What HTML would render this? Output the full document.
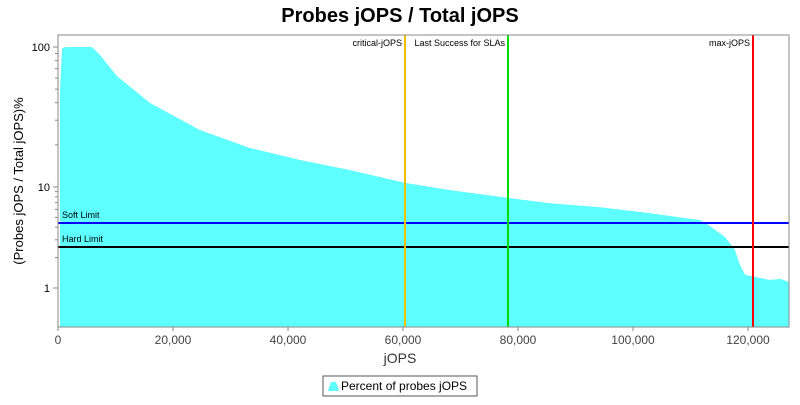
<!DOCTYPE html>
<html><head><meta charset="utf-8"><style>
body{margin:0;background:#fff;font-family:"Liberation Sans","DejaVu Sans",sans-serif}
</style></head><body>
<svg id="c" width="800" height="400" xmlns="http://www.w3.org/2000/svg"></svg>
<script>
const xs=[350,700,1400,5900,7300,10260,16000,24700,33400,42100,50800,60350,68200,78260,85600,94300,103000,108200,111700,113400,116000,117700,118600,119500,121200,123800,125600,127100];
const vals=[49,98,100,100,87.7,62,39.8,25.5,19,15.6,13.2,10.7,9.3,7.8,6.9,6.3,5.5,5.0,4.7,4.1,3.2,2.4,1.7,1.35,1.29,1.2,1.23,1.15];
const xTicks=[0,20000,40000,60000,80000,100000,120000];
const yTicks=[1,10,100];
const markers=[{x:60350,label:"critical-jOPS",color:"#f0c000"},{x:78260,label:"Last Success for SLAs",color:"#00dd00"},{x:120870,label:"max-jOPS",color:"#ff0000"}];
const limits=[{v:4.4,label:"Soft Limit",color:"#0000ff"},{v:2.55,label:"Hard Limit",color:"#000000"}];
const L=58,R=789,T=35,B=327;
const X=v=>L+v*115/20000;
const Y=v=>{const l=Math.log10(v);return l>=1?187-(l-1)*140:288-l*101;};
const s=document.getElementById('c');const NS="http://www.w3.org/2000/svg";
function mk(t,a,txt){const e=document.createElementNS(NS,t);for(const k in a)e.setAttribute(k,a[k]);if(txt!==undefined)e.textContent=txt;s.appendChild(e);return e;}
let e;
e=mk('text',{x:400,y:22,'text-anchor':'middle','font-size':20,'font-weight':'bold'},'Probes jOPS / Total jOPS');


let d=`M${X(xs[0])},${B}`;xs.forEach((x,i)=>d+=` L${X(x)},${Y(vals[i])}`);d+=` L${R},${Y(vals[vals.length-1])} L${R},${B} Z`;
e=mk('path',{d:d,fill:'#5effff'});


limits.forEach(m=>{const y=Y(m.v);
e=mk('line',{x1:L,x2:R,y1:y,y2:y,stroke:m.color,'stroke-width':2});


e=mk('text',{x:L+4,y:y-5,'font-size':9},m.label);

});
markers.forEach(m=>{const x=X(m.x);
e=mk('line',{x1:x,x2:x,y1:T,y2:B,stroke:m.color,'stroke-width':2});


e=mk('text',{x:x-3,y:46,'font-size':9,'text-anchor':'end'},m.label);

});
e=mk('rect',{x:L,y:T,width:R-L,height:B-T,fill:'none',stroke:'#888'});


xTicks.forEach(t=>{const x=X(t);
mk('line',{x1:x,x2:x,y1:B,y2:B+4,stroke:'#888'});
e=mk('text',{x:x,y:B+17,'font-size':12,'text-anchor':'middle',fill:'#444'},t.toLocaleString('en-US'));

});
yTicks.forEach(t=>{const y=Y(t);
mk('line',{x1:L-5,x2:L,y1:y,y2:y,stroke:'#888'});
e=mk('text',{x:L-8,y:y+4,'font-size':11,'text-anchor':'end'},String(t));

});
[1,10].forEach(b=>{for(let k=2;k<10;k++){const y=Y(b*k);mk('line',{x1:L-3,x2:L,y1:y,y2:y,stroke:'#888'});}});
e=mk('text',{x:400,y:363,'font-size':14,'text-anchor':'middle',fill:'#333'},'jOPS');


e=mk('text',{x:0,y:0,'font-size':13,'text-anchor':'middle',transform:'translate(23,181) rotate(-90)'},'(Probes jOPS / Total jOPS)%');


e=mk('rect',{x:323,y:376,width:154,height:20,fill:'#fff',stroke:'#555'});


e=mk('path',{d:'M328,391 L331,382 L336,382 L339,391 Z',fill:'#5effff'});


e=mk('text',{x:341,y:390,'font-size':12},'Percent of probes jOPS');


</script>
</body></html>
